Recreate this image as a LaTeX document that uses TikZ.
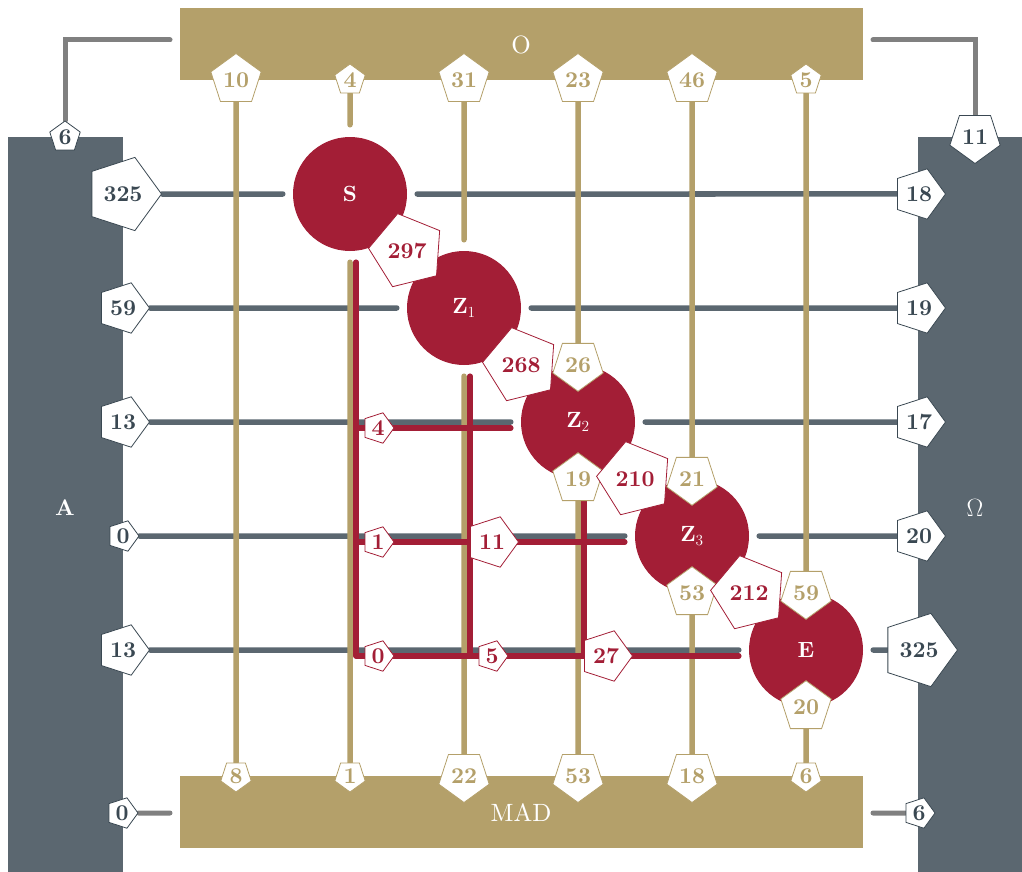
\RequirePackage{fix-cm}
\documentclass[tikz,border=0pt]{standalone}
\usepackage{fontspec}
\setmainfont{lmroman10-regular.otf}[BoldFont=lmroman10-bold.otf]
\usetikzlibrary{shapes.geometric}
\definecolor{slate}{RGB}{91,103,112}
\definecolor{slatedk}{RGB}{58,72,82}
\definecolor{gold}{RGB}{180,160,106}
\definecolor{wine}{RGB}{163,30,54}
\definecolor{greyl}{RGB}{128,128,128}
\pgfdeclarelayer{bars}
\pgfdeclarelayer{lines}
\pgfsetlayers{bars,lines,main}
\tikzset{
  pent/.style={regular polygon, regular polygon sides=5, fill=white, draw, line width=0.8pt, inner sep=0pt, font=\fontsize{22.6}{27}\selectfont\bfseries},
  p1/.style={pent, minimum size=32pt},
  p2/.style={pent, minimum size=53pt},
  p3/.style={pent, minimum size=77pt},
  sl/.style={draw=slatedk, text=slatedk},
  tn/.style={draw=gold, text=gold},
  rd/.style={draw=wine, text=wine},
  pR/.style={shape border rotate=-90},
  pD/.style={shape border rotate=180},
  pU/.style={shape border rotate=0},
  pDiag/.style={shape border rotate=-130},
  hub/.style={circle, fill=wine, minimum size=114pt, inner sep=0pt, text=white, font=\fontsize{22}{27}\selectfont\bfseries},
  bar/.style={rectangle, inner sep=0pt},
  barlab/.style={text=white, font=\fontsize{25}{30}\selectfont},
  gline/.style={draw=slate, line width=5.5pt, line cap=round},
  tline/.style={draw=gold, line width=5.5pt, line cap=round},
  rline/.style={draw=wine, line width=5.5pt, line cap=round, line join=round},
  cline/.style={draw=greyl, line width=5pt, line cap=round},
}
\begin{document}
\begin{tikzpicture}[x=1pt,y=-1pt]
\useasboundingbox (0,0) rectangle (1022,872);
% bars
\begin{pgfonlayer}{bars}
\node[bar, fill=gold, minimum width=683pt, minimum height=72pt] (O) at (521.5,44) {};
\node[bar, fill=gold, minimum width=683pt, minimum height=72pt] (MAD) at (521.5,812) {};
\node[bar, fill=slate, minimum width=115pt, minimum height=735pt] (A) at (65.5,504.5) {};
\node[bar, fill=slate, minimum width=104pt, minimum height=735pt] (W) at (970,504.5) {};
\end{pgfonlayer}
\node[barlab] (Olab) at (521,45) {O};
\node[barlab] (MADlab) at (521,813) {MAD};
\node[barlab, font=\fontsize{22.6}{27}\selectfont\bfseries] (Alab) at (65,508) {A};
\node[barlab] (Wlab) at (975,508) {$\Omega$};
% hubs
\node[hub] (S) at (350,194) {S};
\node[hub] (Z1) at (464,308) {Z$_1$};
\node[hub] (Z2) at (578,422) {Z$_2$};
\node[hub] (Z3) at (692,536) {Z$_3$};
\node[hub] (E) at (806,650) {E};
% left pentagons
\node[p3, sl, pR] (L1) at (123,194) {325};
\node[p2, sl, pR] (L2) at (123,308) {59};
\node[p2, sl, pR] (L3) at (123,422) {13};
\node[p1, sl, pR] (L4) at (123,536) {0};
\node[p2, sl, pR] (L5) at (123,650) {13};
% right pentagons
\node[p2, sl, pR] (R1) at (919,194) {18};
\node[p2, sl, pR] (R2) at (919,308) {19};
\node[p2, sl, pR] (R3) at (919,422) {17};
\node[p2, sl, pR] (R4) at (919,536) {20};
\node[p3, sl, pR] (R5) at (919,650) {325};
% corner pentagons
\node[p1, sl, pU] (c6) at (65,137) {6};
\node[p2, sl, pD] (c11) at (975,137) {11};
\node[p1, sl, pR] (c0) at (122,813) {0};
\node[p1, sl, pR] (c6b) at (919,813) {6};
% top pentagons
\node[p2, tn, pU] (T1) at (236,80) {10};
\node[p1, tn, pU] (T2) at (350,80) {4};
\node[p2, tn, pU] (T3) at (464,80) {31};
\node[p2, tn, pU] (T4) at (578,80) {23};
\node[p2, tn, pU] (T5) at (692,80) {46};
\node[p1, tn, pU] (T6) at (806,80) {5};
% bottom pentagons
\node[p1, tn, pD] (B1) at (236,776) {8};
\node[p1, tn, pD] (B2) at (350,776) {1};
\node[p2, tn, pD] (B3) at (464,776) {22};
\node[p2, tn, pD] (B4) at (578,776) {53};
\node[p2, tn, pD] (B5) at (692,776) {18};
\node[p1, tn, pD] (B6) at (806,776) {6};
% hub pentagons
\node[p2, tn, pD] (n26) at (Z2.north) {26};
\node[p2, tn, pU] (n19) at (Z2.south) {19};
\node[p2, tn, pD] (n21) at (Z3.north) {21};
\node[p2, tn, pU] (n53) at (Z3.south) {53};
\node[p2, tn, pD] (n59) at (E.north) {59};
\node[p2, tn, pU] (n20) at (E.south) {20};
% diagonal pentagons
\node[p3, rd, pDiag] (d297) at (407,251) {297};
\node[p3, rd, pDiag] (d268) at (521,365) {268};
\node[p3, rd, pDiag] (d210) at (635,479) {210};
\node[p3, rd, pDiag] (d212) at (749,593) {212};
% red flow pentagons
\node[p1, rd, pR] (f4) at (378,428) {4};
\node[p1, rd, pR] (f1) at (378,542) {1};
\node[p1, rd, pR] (f0) at (378,656) {0};
\node[p2, rd, pR] (f11) at (492,542) {11};
\node[p1, rd, pR] (f5) at (492,656) {5};
\node[p2, rd, pR] (f27) at (606,656) {27};
% coordinates
\coordinate (Z2in) at ([xshift=-10pt,yshift=-6pt]Z2.west);
\coordinate (Z3in) at ([xshift=-10pt,yshift=-6pt]Z3.west);
\coordinate (Ein) at ([xshift=-10pt,yshift=-6pt]E.west);
\coordinate (s0) at ([xshift=6pt,yshift=-11pt]S.south);
\coordinate (z1o) at ([xshift=6pt,yshift=-11pt]Z1.south);
\coordinate (z2o) at ([xshift=6pt]n19.center);
\coordinate (oL) at (170,40);
\coordinate (oR) at (873,40);
\coordinate (mL) at (170,813);
\coordinate (mR) at (873,813);
\begin{pgfonlayer}{lines}
% corner connectors
\draw[cline] (oL) -| (c6);
\draw[cline] (oR) -| (c11);
\draw[cline] (c0) -- (mL);
\draw[cline] (mR) -- (c6b);
% rows
\draw[gline] (L1) -- ([xshift=-10pt]S.west);
\draw[gline] ([xshift=10pt]S.east) -- (R1);
\draw[gline] (L2) -- ([xshift=-10pt]Z1.west);
\draw[gline] ([xshift=10pt]Z1.east) -- (R2);
\draw[gline] (L3) -- ([xshift=-10pt]Z2.west);
\draw[gline] ([xshift=10pt]Z2.east) -- (R3);
\draw[gline] (L4) -- ([xshift=-10pt]Z3.west);
\draw[gline] ([xshift=10pt]Z3.east) -- (R4);
\draw[gline] (L5) -- ([xshift=-10pt]E.west);
\draw[gline] ([xshift=10pt]E.east) -- (R5);
% columns
\draw[tline] (T1) -- (B1);
\draw[tline] (T2) -- ([yshift=12pt]S.north);
\draw[tline] ([yshift=-11pt]S.south) -- (B2);
\draw[tline] (T3) -- ([yshift=11pt]Z1.north);
\draw[tline] ([yshift=-11pt]Z1.south) -- (B3);
\draw[tline] (T4) -- (n26);
\draw[tline] (n19) -- (B4);
\draw[tline] (T5) -- (n21);
\draw[tline] (n53) -- (B5);
\draw[tline] (T6) -- (n59);
\draw[tline] (n20) -- (B6);
% red flows
\draw[rline] (s0) |- (Ein);
\draw[rline] (s0 |- Z2in) -- (Z2in);
\draw[rline] (s0 |- Z3in) -- (Z3in);
\draw[rline] (z1o) -- (z1o |- Ein);
\draw[rline] (z2o) -- (z2o |- Ein);
\end{pgfonlayer}
\end{tikzpicture}
\end{document}
